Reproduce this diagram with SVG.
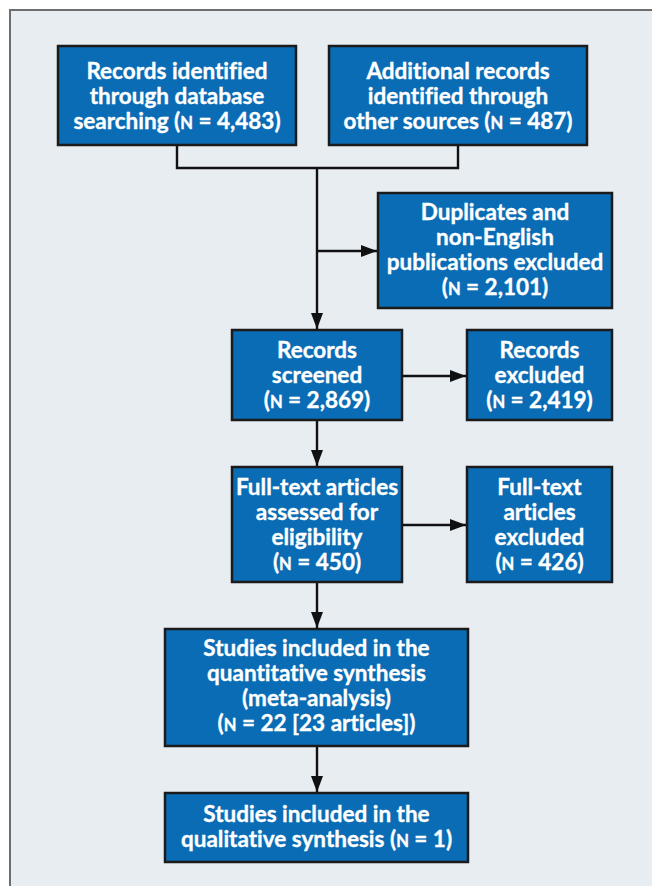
<svg xmlns="http://www.w3.org/2000/svg" width="652" height="886" viewBox="0 0 652 886">
<style>
.box{fill:#0a6cb4;stroke:#1b1b1b;stroke-width:2.5}
.t{font-family:Lato,"Liberation Sans",sans-serif;font-weight:700;font-size:22.5px;fill:#ffffff;text-anchor:middle;font-variant-ligatures:none;stroke:#ffffff;stroke-width:0.35}
.sc{font-size:16.5px}
.ln{fill:none;stroke:#111;stroke-width:2.4}
</style>
<defs>
<marker id="ah" markerUnits="userSpaceOnUse" markerWidth="16" markerHeight="12" refX="16" refY="6" orient="auto">
<path d="M0,0 L16,6 L0,12 Z" fill="#111"/>
</marker>
</defs>
<rect x="0" y="0" width="652" height="886" fill="#ffffff"/>
<rect x="10" y="10" width="660" height="900" fill="#e8edf2" stroke="#6e6e6e" stroke-width="2"/>
<g id="connectors">
<polyline class="ln" points="177,146 177,168 458,168 458,146"/>
<line class="ln" x1="317" y1="168" x2="317" y2="329" marker-end="url(#ah)"/>
<line class="ln" x1="317" y1="251" x2="377" y2="251" marker-end="url(#ah)"/>
<line class="ln" x1="403" y1="376" x2="466" y2="376" marker-end="url(#ah)"/>
<line class="ln" x1="317" y1="421" x2="317" y2="466" marker-end="url(#ah)"/>
<line class="ln" x1="403" y1="525" x2="466" y2="525" marker-end="url(#ah)"/>
<line class="ln" x1="317" y1="583" x2="317" y2="628" marker-end="url(#ah)"/>
<line class="ln" x1="317" y1="747" x2="317" y2="792" marker-end="url(#ah)"/>
</g>
<g id="db">
<rect class="box" x="58" y="46" width="238" height="99"/>
<text class="t" x="177" y="79">Records identified</text>
<text class="t" x="177" y="104">through database</text>
<text class="t" x="177" y="129">searching (<tspan class="sc">N</tspan> = 4,483)</text>
</g>
<g id="other">
<rect class="box" x="329" y="46" width="258" height="99"/>
<text class="t" x="458" y="79">Additional records</text>
<text class="t" x="458" y="104">identified through</text>
<text class="t" x="458" y="129">other sources (<tspan class="sc">N</tspan> = 487)</text>
</g>
<g id="dup">
<rect class="box" x="378" y="193" width="234" height="115"/>
<text class="t" x="495" y="220">Duplicates and</text>
<text class="t" x="495" y="245">non-English</text>
<text class="t" x="495" y="270">publications excluded</text>
<text class="t" x="495" y="295">(<tspan class="sc">N</tspan> = 2,101)</text>
</g>
<g id="screened">
<rect class="box" x="232" y="330" width="170" height="90"/>
<text class="t" x="317" y="358">Records</text>
<text class="t" x="317" y="383">screened</text>
<text class="t" x="317" y="408">(<tspan class="sc">N</tspan> = 2,869)</text>
</g>
<g id="recexcl">
<rect class="box" x="467" y="330" width="145" height="90"/>
<text class="t" x="539.5" y="358">Records</text>
<text class="t" x="539.5" y="383">excluded</text>
<text class="t" x="539.5" y="408">(<tspan class="sc">N</tspan> = 2,419)</text>
</g>
<g id="fulltext">
<rect class="box" x="232" y="467" width="170" height="115"/>
<text class="t" x="317" y="495">Full-text articles</text>
<text class="t" x="317" y="520">assessed for</text>
<text class="t" x="317" y="545">eligibility</text>
<text class="t" x="317" y="570">(<tspan class="sc">N</tspan> = 450)</text>
</g>
<g id="ftexcl">
<rect class="box" x="467" y="467" width="145" height="115"/>
<text class="t" x="539.5" y="495">Full-text</text>
<text class="t" x="539.5" y="520">articles</text>
<text class="t" x="539.5" y="545">excluded</text>
<text class="t" x="539.5" y="570">(<tspan class="sc">N</tspan> = 426)</text>
</g>
<g id="quant">
<rect class="box" x="165" y="629" width="303" height="117"/>
<text class="t" x="316.5" y="656">Studies included in the</text>
<text class="t" x="316.5" y="681">quantitative synthesis</text>
<text class="t" x="316.5" y="706">(meta-analysis)</text>
<text class="t" x="316.5" y="731">(<tspan class="sc">N</tspan> = 22 [23 articles])</text>
</g>
<g id="qual">
<rect class="box" x="165" y="793" width="303" height="69"/>
<text class="t" x="316.5" y="822">Studies included in the</text>
<text class="t" x="316.5" y="847">qualitative synthesis (<tspan class="sc">N</tspan> = 1)</text>
</g>
</svg>
